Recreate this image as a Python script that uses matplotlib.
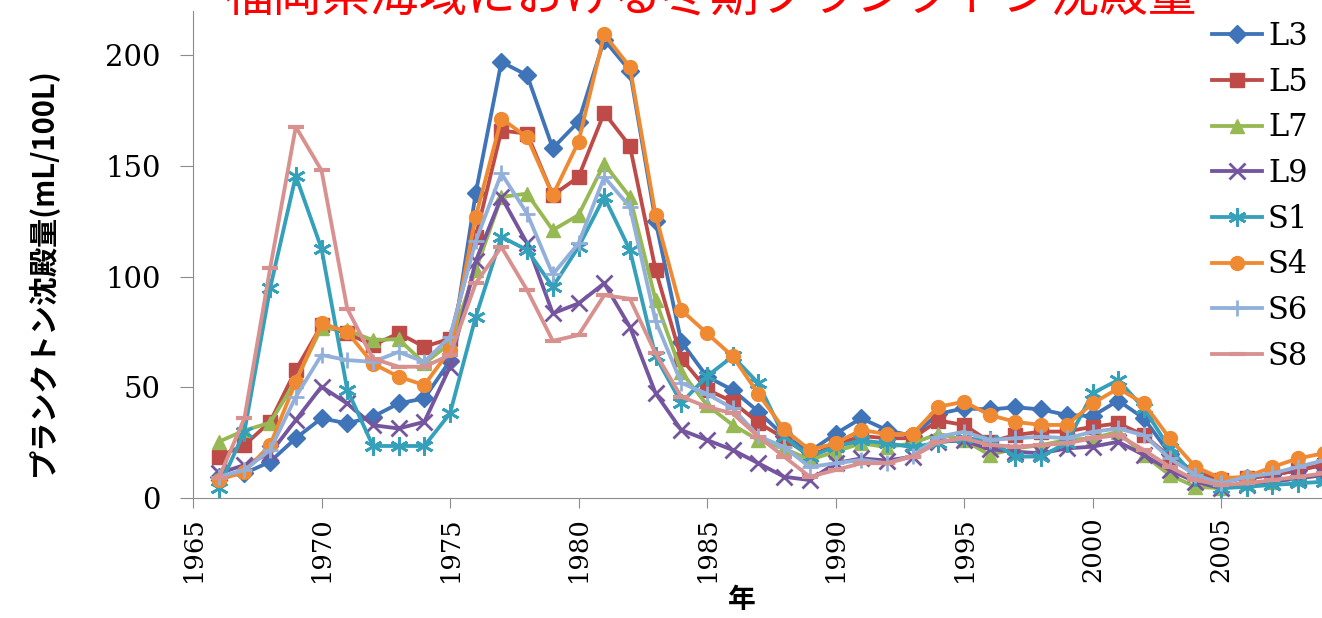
import matplotlib
matplotlib.use("Agg")
import matplotlib.pyplot as plt

years = list(range(1966, 2010))

l3 = [9.6, 11.1, 16.4, 27, 36, 33.7, 36.7, 42.7, 45, 62, 137.7, 197, 191, 158, 170, 207, 193, 125,
      70.6, 54.8, 48.8, 39, 28, 21, 29, 36, 30.7, 28, 38, 40.5, 40, 41, 40, 37.5, 37, 44, 36, 20,
      10.4, 7.4, 8.9, 10.4, 12.6, 15]
l5 = [18.7, 23.9, 34.4, 57.8, 78, 74.4, 69, 74.4, 68.3, 72, 118, 166, 164.6, 136.8, 145, 174, 159, 103,
      63, 49, 43.5, 34, 27, 19, 24, 28, 27, 27, 35, 33, 25.4, 28.4, 30, 30, 32.2, 33.7, 28.4, 18.7,
      11.9, 8.1, 8.9, 10.4, 12.6, 15]
l7 = [25.4, 30.5, 34, 53, 77, 75.8, 71.3, 71.8, 60.8, 69.8, 103, 136, 137.5, 121, 127.8, 151, 136, 89.4,
      57, 42, 33, 26.2, 22.4, 17.2, 21, 24.7, 23, 24.7, 29, 26.2, 19.4, 22.4, 23.9, 26.2, 27, 29.9, 19.4,
      10.4, 5.1, 4.4, 6.6, 7.4, 8.9, 10.4]
l9 = [11.1, 14.9, 20.2, 35.2, 50.3, 42.7, 32.9, 31.4, 34.4, 59.3, 107, 136, 115, 83.4, 87.9, 97, 77.3, 47.3,
      30.7, 26.2, 21.7, 15.7, 9.6, 8.1, 15.7, 17.9, 16.9, 18.7, 25.4, 26, 22, 20.9, 20.2, 22.4, 23.2, 25.4,
      19.4, 12.6, 7.4, 4.4, 5.9, 7.4, 8.9, 10.4]
s1 = [4.4, 30, 94.7, 145.5, 112.7, 49, 23.5, 23.5, 23.5, 38.2, 81.8, 118, 112, 95.4, 113.4, 136, 112, 64,
      43, 55, 64, 51.8, 27.7, 18.7, 23.2, 26, 24.7, 23, 25, 27, 26, 18.7, 18.7, 25, 47.3, 53.3, 40.5, 22.4,
      9.6, 4.4, 5.1, 5.9, 6.6, 7.4]
s4 = [8.1, 11.9, 23.9, 52.5, 78.9, 75, 60.7, 54.8, 51, 66.8, 127, 171.4, 163, 136.8, 160.9, 209.5, 194.7,
      127.8, 84.9, 74.4, 64, 47, 31, 21.7, 24.7, 30.7, 28.9, 28.9, 41.2, 43.5, 37.5, 34.4, 33, 33, 42.7,
      49.5, 42.7, 27, 14.1, 8.9, 9.6, 14, 17.9, 20.2]
s6 = [9.6, 12.6, 21.7, 45.7, 64.6, 62.3, 61.5, 66, 61.5, 72.8, 116, 146.6, 128.5, 101, 115, 145, 131.5, 80,
      52, 47, 40.5, 28, 23, 14, 15.7, 17.2, 15.7, 19, 27.7, 29.9, 26.2, 27, 27.7, 27, 29.9, 31.4, 28.4,
      17.9, 10.4, 6.6, 9.6, 11.1, 14.1, 17]
s8 = [8.9, 36, 103.7, 167.7, 148, 85.6, 63, 59.3, 59.3, 64.6, 97, 113.4, 93.9, 71, 73.6, 91.6, 90, 65.3,
      45.7, 41.2, 38.2, 27.7, 18.7, 9.6, 12.6, 15.7, 15.7, 18.7, 25.4, 26.9, 24, 23.2, 23.9, 24.7, 27, 28.4,
      21.7, 14.1, 8.1, 5.9, 6.6, 8.1, 9.6, 11.1]

series_names = ["L3", "L5", "L7", "L9", "S1", "S4", "S6", "S8"]
x_ticks = [1965, 1970, 1975, 1980, 1985, 1990, 1995, 2000, 2005]
y_ticks = [0, 50, 100, 150, 200]

# style per series: colour, marker, marker size, marker edge width
styles = {
    "L3": ("#3F74B8", "D", 9, 1.0),
    "L5": ("#BE4B48", "s", 10, 1.0),
    "L7": ("#97B954", "^", 10, 1.0),
    "L9": ("#74559E", "x", 11, 2.0),
    "S1": ("#35A0BA", (6, 2, 0), 13, 2.0),
    "S4": ("#F08A32", "o", 10, 1.0),
    "S6": ("#93B0DA", "+", 12, 2.0),
    "S8": ("#D8918F", "_", 12, 3.0),
}

W, H = 1322, 618
fig = plt.figure(figsize=(W / 100, H / 100), dpi=100)
ax = fig.add_axes([193 / W, 1 - 498 / H, (1323.8 - 193) / W, (498 - 11) / H])

for name, vals in zip(series_names, [l3, l5, l7, l9, s1, s4, s6, s8]):
    color, marker, ms, mew = styles[name]
    ax.plot(years, vals, color=color, lw=2.75, marker=marker, markersize=ms,
            markeredgewidth=mew, markerfacecolor=color, markeredgecolor=color, label=name)

ax.set_xlim(1965, 2009)
ax.set_ylim(0, 220)
ax.set_xticks(x_ticks)
ax.set_yticks(y_ticks)
ax.spines[["top", "right"]].set_visible(False)
ax.spines[["left", "bottom"]].set_color("#8C8C8C")
ax.tick_params(axis="y", length=9.4, pad=14, color="#8C8C8C", labelsize=21)
ax.tick_params(axis="x", length=7.2, pad=6, color="#8C8C8C", labelsize=18.5, labelrotation=90)
for lab in ax.get_xticklabels() + ax.get_yticklabels():
    lab.set_family("DejaVu Serif")

cjk = ["Noto Sans CJK JP", "DejaVu Sans"]
ax.set_ylabel("プランクトン沈殿量(mL/100L)", family=cjk, fontweight="bold", fontsize=21)
ax.yaxis.set_label_coords(42 / W, 1 - 272 / H, transform=fig.transFigure)
ax.set_xlabel("年", family=cjk, fontweight="bold", fontsize=20)
ax.xaxis.set_label_coords(742 / W, 1 - 600 / H, transform=fig.transFigure)
ax.xaxis.label.set_va("center")
ax.yaxis.label.set_va("center")

# title sits mostly above the picture, as in the source image
fig.text(710 / W, 1 - 10 / H, "福岡県海域における冬期プランクトン沈殿量", color="red",
         family=cjk, fontsize=35, ha="center", va="baseline")

fig.legend(loc="upper left", bbox_to_anchor=(1212 / W, 1 - 21 / H), frameon=False,
           prop={"family": "DejaVu Serif", "size": 22}, borderpad=0, handlelength=1.63,
           handletextpad=0.2, labelspacing=0.48, borderaxespad=0)

fig.savefig("out.png", dpi=100)
